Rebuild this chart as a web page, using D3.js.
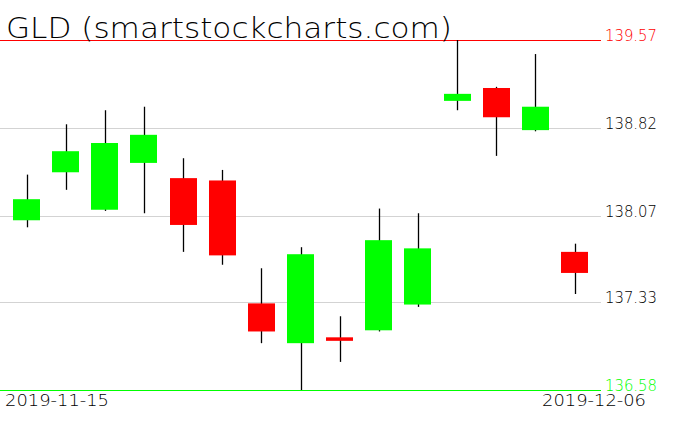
<!DOCTYPE html>
<html>
<head>
<meta charset="utf-8">
<script src="https://cdn.jsdelivr.net/npm/d3@7"></script>
<style>
  body { margin: 0; background: #fff; }
  text { font-family: 'DejaVu Sans ExtraLight', 'DejaVu Sans', sans-serif; font-weight: 200; }
</style>
</head>
<body>
<svg></svg>
<script>
// trading days shown
const dates = ['2019-11-15', '2019-11-18', '2019-11-19', '2019-11-20', '2019-11-21', '2019-11-22',
	'2019-11-25', '2019-11-26', '2019-11-27', '2019-11-29', '2019-12-02', '2019-12-03',
	'2019-12-04', '2019-12-05', '2019-12-06']
const opens  = [138.03, 138.44, 138.12, 138.52, 138.39, 138.37, 137.32, 136.98, 137.03, 137.09, 137.31, 139.05, 139.16, 138.80, 137.76]
const highs  = [138.42, 138.85, 138.97, 139.00, 138.56, 138.46, 137.62, 137.80, 137.21, 138.13, 138.09, 139.57, 139.17, 139.45, 137.83]
const lows   = [137.97, 138.29, 138.11, 138.09, 137.76, 137.65, 136.98, 136.58, 136.82, 137.08, 137.29, 138.97, 138.58, 138.79, 137.40]
const closes = [138.21, 138.62, 138.69, 138.76, 137.99, 137.73, 137.08, 137.74, 137.00, 137.86, 137.79, 139.11, 138.91, 139.00, 137.58]
const priceTicks = [139.57, 138.82, 138.07, 137.33, 136.58]
const dateLabels = ['2019-11-15', '2019-12-06']

const width = 676
const height = 431

const svg = d3.select('svg')
	.attr('width', width)
	.attr('height', height)

const x = d3.scalePoint()
	.domain(dates)
	.range([26.5, 574.5])

const y = d3.scaleLinear()
	.domain([136.58, 139.57])
	.range([390, 40])

const bodyW = 27

const data = dates.map((d, i) => ({
	date: d, open: opens[i], high: highs[i], low: lows[i], close: closes[i]
}))

// horizontal price lines: top red, bottom green, the rest grey
const lineColor = (v, i) => i === 0 ? '#ff0000' : (i === priceTicks.length - 1 ? '#00ff00' : '#d3d3d3')

svg.append('g')
	.selectAll('line')
	.data(priceTicks)
	.join('line')
		.attr('x1', 0)
		.attr('x2', 601)
		.attr('y1', d => Math.round(y(d)) + 0.5)
		.attr('y2', d => Math.round(y(d)) + 0.5)
		.attr('stroke', (d, i) => lineColor(d, i))
		.attr('stroke-width', 1)

// candles
const candle = svg.append('g')
	.selectAll('g')
	.data(data)
	.join('g')

candle.append('line')
	.attr('x1', d => Math.round(x(d.date)) + 0.5)
	.attr('x2', d => Math.round(x(d.date)) + 0.5)
	.attr('y1', d => y(d.high))
	.attr('y2', d => y(d.low))
	.attr('stroke', '#000')
	.attr('stroke-width', 1.3)

candle.append('rect')
	.attr('x', d => Math.round(x(d.date) - bodyW / 2))
	.attr('width', bodyW)
	.attr('y', d => y(Math.max(d.open, d.close)))
	.attr('height', d => Math.max(3, Math.abs(y(d.open) - y(d.close))))
	.attr('fill', d => d.close >= d.open ? '#00ff00' : '#ff0000')

// price labels on the right
svg.append('g')
	.selectAll('text')
	.data(priceTicks)
	.join('text')
		.attr('x', 605)
		.attr('y', d => y(d) + 1)
		.attr('font-size', '15.5px')
		.attr('textLength', 52)
		.attr('lengthAdjust', 'spacingAndGlyphs')
		.attr('fill', (d, i) => i === 0 ? '#ff0000' : (i === priceTicks.length - 1 ? '#00ff00' : '#000'))
		.text(d => d.toFixed(2))

// date labels
svg.append('g')
	.selectAll('text')
	.data(dateLabels)
	.join('text')
		.attr('x', (d, i) => i === 0 ? 5 : 542)
		.attr('y', 406)
		.attr('font-size', '15.5px')
		.attr('textLength', 104)
		.attr('lengthAdjust', 'spacingAndGlyphs')
		.attr('fill', '#000')
		.text(d => d)

// title
svg.append('text')
	.attr('x', 6)
	.attr('y', 37.5)
	.attr('font-size', '29px')
	.attr('textLength', 446)
	.attr('lengthAdjust', 'spacingAndGlyphs')
	.attr('fill', '#000')
	.text('GLD (smartstockcharts.com)')
</script>
</body>
</html>
